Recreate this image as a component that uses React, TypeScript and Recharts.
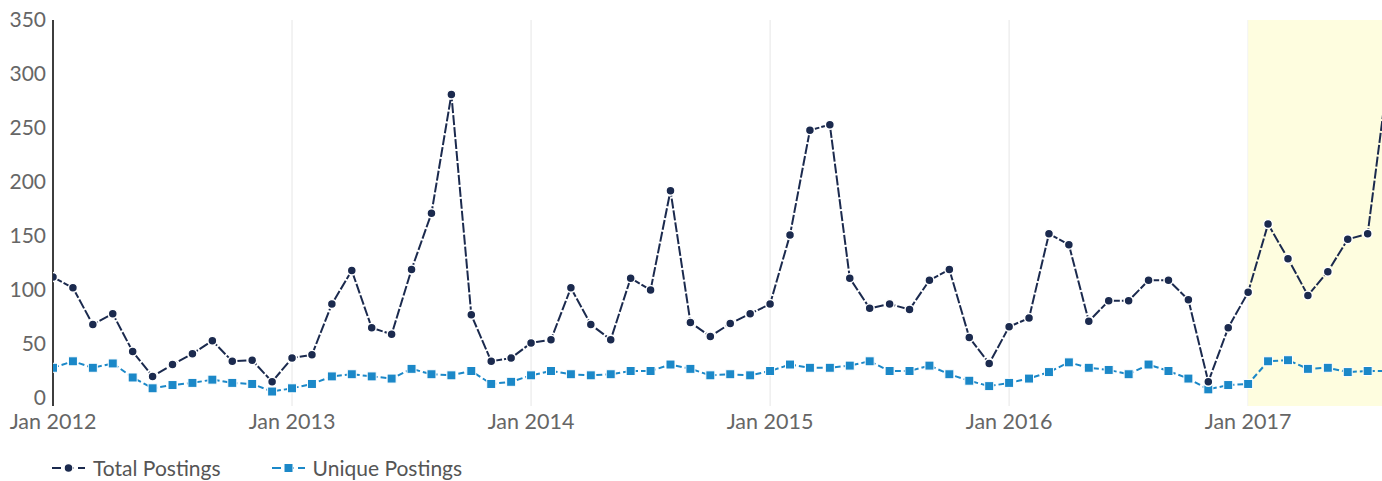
import React from "react";
import {
  LineChart,
  Line,
  XAxis,
  YAxis,
  CartesianGrid,
  ReferenceArea,
  Legend,
} from "recharts";

// Monthly index starting Jan 2012 (0) to Aug 2017 (67)
const totalPostings = [
  112, 102, 68, 78, 43, 20, 31, 41, 53, 34, 35, 15,
  37, 40, 87, 118, 65, 59, 119, 171, 281, 77, 34, 37,
  51, 54, 102, 68, 54, 111, 100, 192, 70, 57, 69, 78,
  87, 151, 248, 253, 111, 83, 87, 82, 109, 119, 56, 32,
  66, 74, 152, 142, 71, 90, 90, 109, 109, 91, 15, 65,
  98, 161, 129, 95, 117, 147, 152, 295,
];

const uniquePostings = [
  28, 34, 28, 32, 19, 9, 12, 14, 17, 14, 13, 6,
  9, 13, 20, 22, 20, 18, 27, 22, 21, 25, 13, 15,
  21, 25, 22, 21, 22, 25, 25, 31, 27, 21, 22, 21,
  25, 31, 28, 28, 30, 34, 25, 25, 30, 22, 16, 11,
  14, 18, 24, 33, 28, 26, 22, 31, 25, 18, 8, 12,
  13, 34, 35, 27, 28, 24, 25, 25,
];

const yTicks = [0, 50, 100, 150, 200, 250, 300, 350];
const xTicks = [0, 12, 24, 36, 48, 60];
const startYear = 2012;
const highlightStart = 60;
const xMax = 66.72;

const TOTAL_COLOR = "#1b2a4e";
const UNIQUE_COLOR = "#1b88c8";
const FONT = "Lato, 'Open Sans', sans-serif";

const data = totalPostings.map((t, i) => ({
  idx: i,
  total: t,
  unique: uniquePostings[i],
}));

const fmtX = (v: number) => `Jan ${startYear + Math.round(v / 12)}`;

const CircleDot = (props: any) => {
  const { cx, cy, key } = props;
  if (cx == null || cy == null) return null;
  return (
    <circle
      key={key}
      cx={cx}
      cy={cy}
      r={4.5}
      fill={TOTAL_COLOR}
      stroke="#ffffff"
      strokeWidth={1.5}
    />
  );
};

const SquareDot = (props: any) => {
  const { cx, cy, key } = props;
  if (cx == null || cy == null) return null;
  return (
    <rect
      key={key}
      x={cx - 4.5}
      y={cy - 4.5}
      width={9}
      height={9}
      fill={UNIQUE_COLOR}
      stroke="#ffffff"
      strokeWidth={1}
    />
  );
};

const LegendContent = () => (
  <div
    style={{
      height: 44,
      display: "flex",
      alignItems: "flex-end",
      paddingLeft: 44,
      fontFamily: FONT,
      fontSize: 21,
      lineHeight: "24px",
      color: "#555",
      boxSizing: "border-box",
      paddingBottom: 0,
    }}
  >
    <div style={{ display: "flex", alignItems: "center", marginRight: 51 }}>
      <svg width={33} height={14} style={{ marginRight: 8 }}>
        <line x1={0} y1={7} x2={33} y2={7} stroke={TOTAL_COLOR} strokeWidth={2} strokeDasharray="9 4" />
        <circle cx={16.5} cy={7} r={4.5} fill={TOTAL_COLOR} stroke="#fff" strokeWidth={1.5} />
      </svg>
      <span>Total Postings</span>
    </div>
    <div style={{ display: "flex", alignItems: "center" }}>
      <svg width={33} height={14} style={{ marginRight: 8 }}>
        <line x1={0} y1={7} x2={33} y2={7} stroke={UNIQUE_COLOR} strokeWidth={2} strokeDasharray="9 4" />
        <rect x={12} y={2.5} width={9} height={9} fill={UNIQUE_COLOR} stroke="#fff" strokeWidth={1} />
      </svg>
      <span>Unique Postings</span>
    </div>
  </div>
);

export default function App() {
  return (
    <div
      style={{
        position: "absolute",
        left: 0,
        top: 0,
        width: 1382,
        height: 481,
        overflow: "hidden",
        background: "#fff",
        fontFamily: FONT,
      }}
    >
      <LineChart
        width={1382}
        height={481}
        data={data}
        margin={{ top: 20, right: 0, bottom: 1, left: 8 }}
      >
        <ReferenceArea
          x1={highlightStart}
          x2={xMax}
          fill="#fefddf"
          fillOpacity={1}
          ifOverflow="hidden"
        />
        <CartesianGrid horizontal={false} stroke="#e6e6e6" />
        <XAxis
          dataKey="idx"
          type="number"
          domain={[0, xMax]}
          allowDataOverflow
          ticks={xTicks}
          tickFormatter={fmtX}
          axisLine={false}
          tickLine={false}
          tickSize={0}
          tickMargin={8}
          height={30}
          tick={{ fill: "#666", fontSize: 21.5, fontFamily: FONT }}
        />
        <YAxis
          type="number"
          domain={[-7.4, 350]}
          allowDataOverflow
          ticks={yTicks}
          width={45}
          axisLine={{ stroke: "#000", strokeWidth: 1.5 }}
          tickLine={false}
          tickSize={0}
          tickMargin={7}
          tick={{ fill: "#666", fontSize: 21, fontFamily: FONT }}
        />
        <Legend verticalAlign="bottom" content={<LegendContent />} />
        <Line
          dataKey="unique"
          stroke={UNIQUE_COLOR}
          strokeWidth={2}
          strokeDasharray="6 3"
          dot={SquareDot}
          activeDot={false}
          isAnimationActive={false}
        />
        <Line
          dataKey="total"
          stroke={TOTAL_COLOR}
          strokeWidth={2}
          strokeDasharray="10 2"
          dot={CircleDot}
          activeDot={false}
          isAnimationActive={false}
        />
      </LineChart>
    </div>
  );
}
